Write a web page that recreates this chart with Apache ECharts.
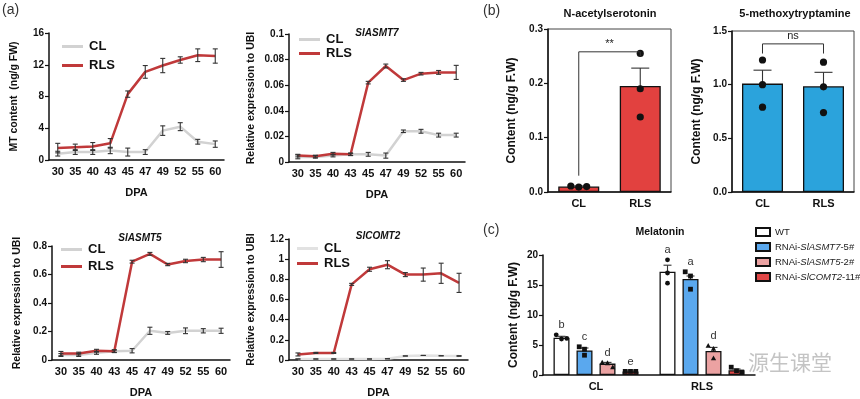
<!DOCTYPE html>
<html>
<head>
<meta charset="utf-8">
<script src="https://cdn.jsdelivr.net/npm/echarts@6/dist/echarts.min.js"></script>
<style>
html, body { margin: 0; padding: 0; background: #fff; }
#main { width: 860px; height: 399px; }
</style>
</head>
<body>
<div id="main"></div>
<script>
// ---- (a) time course, DPA categories
var dpa = ['30', '35', '40', '43', '45', '47', '49', '52', '55', '60'];

var mtCL = [0.8, 1.0, 1.0, 1.2, 1.0, 1.0, 3.7, 4.2, 2.3, 2.0];
var mtCLErr = [0.3, 0.3, 0.3, 0.4, 0.5, 0.3, 0.6, 0.5, 0.3, 0.4];
var mtRLS = [1.5, 1.6, 1.7, 2.1, 8.3, 11.1, 11.9, 12.6, 13.2, 13.1];
var mtRLSErr = [0.6, 0.4, 0.5, 0.6, 0.4, 0.8, 0.9, 0.4, 0.8, 0.9];

var a7CL = [0.004, 0.004, 0.005, 0.006, 0.006, 0.005, 0.024, 0.024, 0.021, 0.021];
var a7CLErr = [0.0015, 0.001, 0.001, 0.001, 0.0015, 0.002, 0.001, 0.0015, 0.0015, 0.0015];
var a7RLS = [0.005, 0.0045, 0.0065, 0.006, 0.062, 0.075, 0.064, 0.069, 0.070, 0.070];
var a7RLSErr = [0.001, 0.0008, 0.001, 0.0008, 0.001, 0.0015, 0.001, 0.001, 0.0015, 0.0055];

var a5CL = [0.035, 0.035, 0.05, 0.062, 0.065, 0.205, 0.19, 0.205, 0.205, 0.205];
var a5CLErr = [0.01, 0.01, 0.01, 0.01, 0.015, 0.025, 0.01, 0.02, 0.015, 0.018];
var a5RLS = [0.045, 0.045, 0.065, 0.062, 0.69, 0.745, 0.67, 0.695, 0.705, 0.705];
var a5RLSErr = [0.015, 0.01, 0.01, 0.008, 0.01, 0.01, 0.008, 0.012, 0.015, 0.055];

var c2CL = [0.01, 0.01, 0.01, 0.01, 0.01, 0.012, 0.04, 0.045, 0.042, 0.04];
var c2CLErr = [0, 0, 0, 0, 0, 0, 0, 0, 0, 0.003];
var c2RLS = [0.055, 0.07, 0.07, 0.75, 0.9, 0.945, 0.847, 0.847, 0.86, 0.765];
var c2RLSErr = [0.015, 0.005, 0.005, 0.01, 0.02, 0.04, 0.02, 0.065, 0.1, 0.095];

// ---- (b) precursors
var fruitCats = ['CL', 'RLS'];
var nasMean = [0.010, 0.195];
var nasErr = [0.001, 0.033];
var nasPts = [[0.011, 0.009, 0.010], [0.255, 0.190, 0.138]];
var nasBracket = [0.03, 0.258, 0.25];
var nasSig = '**';

var mtpMean = [1.01, 0.985];
var mtpErr = [0.125, 0.13];
var mtpPts = [[1.23, 1.00, 0.79], [1.21, 0.98, 0.74]];
var mtpBracket = [1.29, 1.38, 1.29];
var mtpSig = 'ns';

// ---- (c) melatonin in RNAi lines
var lines = ['WT', 'RNAi-SlASMT7-5#', 'RNAi-SlASMT5-2#', 'RNAi-SlCOMT2-11#'];
var melMean = [[6.2, 17.2], [4.1, 16.0], [1.9, 4.0], [0.6, 0.8]];
var melErr = [[0.25, 1.1], [0.4, 0.5], [0.2, 0.6], [0.05, 0.2]];
var melPts = [
  [[6.7, 6.0, 6.1], [19.2, 17.0, 15.3]],
  [[4.7, 4.3, 3.3], [17.2, 16.5, 14.3]],
  [[2.1, 2.0, 1.3], [4.9, 4.4, 2.8]],
  [[0.6, 0.6, 0.6], [1.3, 0.7, 0.5]]
];
var melLetters = [['b', 'a'], ['c', 'a'], ['d', 'd'], ['e', '']];

var RED = '#c0393a';
var lineColors = ['#ffffff', '#5aa8ee', '#eba2a2', '#e04646'];
var lineShapes = ['circle', 'square', 'triangle', 'square'];
var FONT = 'Arial';

var grids = [], xAxes = [], yAxes = [], series = [], legends = [];

function axisX(gi, cats, opt) {
  return Object.assign({
    type: 'category', gridIndex: gi, data: cats,
    axisLine: { lineStyle: { color: '#111', width: 1.5 } },
    axisTick: { length: 4, lineStyle: { color: '#111', width: 1.2 } },
    axisLabel: { color: '#111', fontWeight: 'bold', fontSize: 11, fontFamily: FONT, margin: 6, interval: 0 },
    splitLine: { show: false }
  }, opt || {});
}

function axisY(gi, max, step, name, gap, fmt, nameSize) {
  return {
    type: 'value', gridIndex: gi, min: 0, max: max, interval: step,
    name: name, nameLocation: 'middle', nameGap: gap,
    nameTextStyle: { color: '#111', fontWeight: 'bold', fontSize: nameSize || 10.5, fontFamily: FONT },
    axisLine: { show: true, lineStyle: { color: '#111', width: 1.5 } },
    axisTick: { show: true, length: 4, lineStyle: { color: '#111', width: 1.2 } },
    axisLabel: { color: '#111', fontWeight: 'bold', fontSize: 10, fontFamily: FONT, margin: 5, formatter: fmt },
    splitLine: { show: false }
  };
}

function errBars(xi, means, errs, both, offsetPx, cap, z) {
  return {
    type: 'custom', xAxisIndex: xi, yAxisIndex: xi, z: z || 6, silent: true,
    data: means.map(function (v, k) { return [k, v, errs[k]]; }),
    renderItem: function (params, api) {
      var k = api.value(0), v = api.value(1), e = api.value(2);
      var hi = api.coord([k, v + e]);
      var lo = api.coord([k, both ? v - e : v]);
      var dx = offsetPx || 0;
      var st = { stroke: '#333', lineWidth: 1.1, fill: null };
      var kids = [
        { type: 'line', shape: { x1: hi[0] + dx, y1: hi[1], x2: lo[0] + dx, y2: lo[1] }, style: st },
        { type: 'line', shape: { x1: hi[0] + dx - cap, y1: hi[1], x2: hi[0] + dx + cap, y2: hi[1] }, style: st }
      ];
      if (both) kids.push({ type: 'line', shape: { x1: lo[0] + dx - cap, y1: lo[1], x2: lo[0] + dx + cap, y2: lo[1] }, style: st });
      return { type: 'group', children: kids };
    }
  };
}

function linePanel(gi, box, ymax, step, fmt, cl, clErr, rls, rlsErr, clColor, yName, yGap, legendPos) {
  grids.push({ left: box[0], top: box[1], width: box[2], height: box[3], containLabel: false });
  xAxes.push(axisX(gi, dpa, {
    name: 'DPA', nameLocation: 'middle', nameGap: 27,
    nameTextStyle: { color: '#111', fontWeight: 'bold', fontSize: 11, fontFamily: FONT }
  }));
  yAxes.push(axisY(gi, ymax, step, yName, yGap, fmt));
  series.push({
    name: 'CL', type: 'line', xAxisIndex: gi, yAxisIndex: gi, data: cl, symbol: 'none', z: 2,
    itemStyle: { color: clColor }, lineStyle: { color: clColor, width: 2.5 }
  });
  series.push({
    name: 'RLS', type: 'line', xAxisIndex: gi, yAxisIndex: gi, data: rls, symbol: 'none', z: 3,
    itemStyle: { color: RED }, lineStyle: { color: RED, width: 2.5 }
  });
  series.push(errBars(gi, cl, clErr, true, 0, 2.5));
  series.push(errBars(gi, rls, rlsErr, true, 0, 2.5));
  legends.push({
    orient: 'vertical', left: legendPos[0], top: legendPos[1], itemGap: legendPos[2], padding: 0,
    icon: 'rect', itemWidth: 21, itemHeight: 3, selectedMode: false,
    textStyle: { color: '#111', fontWeight: 'bold', fontSize: 13, fontFamily: FONT, padding: [0, 0, 0, 1] },
    data: [{ name: 'CL', itemStyle: { color: clColor } }, { name: 'RLS', itemStyle: { color: RED } }]
  });
}

var f2 = function (v) { return String(+v.toFixed(2)); };
var f1 = function (v) { return v.toFixed(1); };

linePanel(0, [49, 33, 175, 127], 16, 4, null, mtCL, mtCLErr, mtRLS, mtRLSErr, '#d2d2d2',
  'MT content  (ng/g FW)', 29, [62, 40, 6]);
linePanel(1, [289, 34, 176, 128], 0.1, 0.02, f2, a7CL, a7CLErr, a7RLS, a7RLSErr, '#d2d2d2',
  'Relative expression to UBI', 32, [299, 33, 1]);
linePanel(2, [52, 246, 178, 119], 0.8, 0.2, f2, a5CL, a5CLErr, a5RLS, a5RLSErr, '#d2d2d2',
  'Relative expression to UBI', 29, [61, 243, 4]);
linePanel(3, [289, 239, 179, 125], 1.2, 0.2, f2, c2CL, c2CLErr, c2RLS, c2RLSErr, '#e2e2e2',
  'Relative expression to UBI', 32, [297, 242, 2]);

// dots drawn through the axes; points that would overlap are spread sideways
function dotSeries(gi, ptsByBar, step, r, shapes, colorFill) {
  var data = [];
  ptsByBar.forEach(function (byCat, b) {
    byCat.forEach(function (arr, c) {
      arr.forEach(function (v, j) { data.push([c, v, b, j]); });
    });
  });
  var nBars = ptsByBar.length;
  return {
    type: 'custom', xAxisIndex: gi, yAxisIndex: gi, z: 7, silent: true, data: data,
    renderItem: function (params, api) {
      var c = api.value(0), v = api.value(1), b = api.value(2), j = api.value(3);
      var p = api.coord([c, v]);
      var arr = ptsByBar[b][c];
      var close = arr.some(function (w, k) {
        return k !== j && Math.abs(api.coord([c, w])[1] - p[1]) < r * 2.2;
      });
      var x = p[0] + (b - (nBars - 1) / 2) * step + (close ? (j - 1) * r * 2.2 : 0);
      var y = p[1];
      var st = { fill: colorFill || '#111', stroke: null };
      var shp = shapes ? shapes[b] : 'circle';
      if (shp === 'square') return { type: 'rect', shape: { x: x - r, y: y - r, width: 2 * r, height: 2 * r }, style: st };
      if (shp === 'triangle') return { type: 'polygon', shape: { points: [[x, y - r * 1.1], [x - r * 1.1, y + r * 0.9], [x + r * 1.1, y + r * 0.9]] }, style: st };
      return { type: 'circle', shape: { cx: x, cy: y, r: r }, style: st };
    }
  };
}

function bracketSeries(gi, br, sig) {
  return {
    type: 'custom', xAxisIndex: gi, yAxisIndex: gi, z: 8, silent: true, data: [[0, br[1]]],
    renderItem: function (params, api) {
      var a = api.coord([0, br[0]]), t = api.coord([0, br[1]]), t2 = api.coord([1, br[1]]), b = api.coord([1, br[2]]);
      return {
        type: 'group', children: [
          { type: 'polyline', shape: { points: [a, t, t2, b] }, style: { stroke: '#333', lineWidth: 1, fill: null } },
          { type: 'text', x: (t[0] + t2[0]) / 2, y: t[1] - 2, style: { text: sig, fill: '#222', fontSize: 11, fontFamily: FONT, align: 'center', verticalAlign: 'bottom' } }
        ]
      };
    }
  };
}

function barPanel(gi, box, max, step, means, errs, pts, br, sig, color, gap) {
  grids.push({ left: box[0], top: box[1], width: box[2], height: box[3], containLabel: false, show: true, borderColor: '#444', borderWidth: 1, backgroundColor: 'transparent' });
  xAxes.push(axisX(gi, fruitCats, { axisTick: { alignWithLabel: true, length: 4, lineStyle: { color: '#111', width: 1.2 } } }));
  yAxes.push(axisY(gi, max, step, 'Content (ng/g F.W)', gap, f1, 12));
  series.push({
    type: 'bar', xAxisIndex: gi, yAxisIndex: gi, data: means, barWidth: 41, z: 2,
    itemStyle: { color: color, borderColor: '#111', borderWidth: 1.3 }
  });
  series.push(errBars(gi, means, errs, false, 0, 9));
  series.push(dotSeries(gi, [pts], 0, 3.6));
  series.push(bracketSeries(gi, br, sig));
}

barPanel(4, [548, 29, 123, 163], 0.3, 0.1, nasMean, nasErr, nasPts, nasBracket, nasSig, '#e2413f', 30);
barPanel(5, [732, 31, 122, 161], 1.5, 0.5, mtpMean, mtpErr, mtpPts, mtpBracket, mtpSig, '#2ba3dc', 29);

// (c) grouped bars
var G = 6, BW = 16, STEP = 23;
grids.push({ left: 543, top: 255, width: 212, height: 120, containLabel: false });
xAxes.push(axisX(G, fruitCats, { axisTick: { alignWithLabel: true, length: 4, lineStyle: { color: '#111', width: 1.2 } } }));
yAxes.push(axisY(G, 20, 5, 'Content (ng/g F.W)', 23, null, 12));
lines.forEach(function (nm, b) {
  series.push({
    name: nm, type: 'bar', xAxisIndex: G, yAxisIndex: G, barWidth: BW, barGap: ((STEP - BW) / BW * 100) + '%', z: 2,
    data: melMean[b], itemStyle: { color: lineColors[b], borderColor: '#111', borderWidth: 1.3 }
  });
  series.push(errBars(G, melMean[b], melErr[b], false, (b - 1.5) * STEP, 4));
});
series.push(dotSeries(G, melPts, STEP, 2.4, lineShapes));
var letterData = [];
melLetters.forEach(function (row, b) { row.forEach(function (s, c) { letterData.push([c, b]); }); });
series.push({
  type: 'custom', xAxisIndex: G, yAxisIndex: G, z: 8, silent: true, data: letterData,
  renderItem: function (params, api) {
    var c = api.value(0), b = api.value(1);
    var top = Math.max.apply(null, melPts[b][c].concat([melMean[b][c] + melErr[b][c]]));
    var p = api.coord([c, top]);
    return { type: 'text', x: p[0] + (b - 1.5) * STEP, y: p[1] - 4, style: { text: melLetters[b][c], fill: '#333', fontSize: 11, fontFamily: FONT, align: 'center', verticalAlign: 'bottom' } };
  }
});
legends.push({
  orient: 'vertical', left: 755, top: 227, itemGap: 5, padding: 0, icon: 'rect', itemWidth: 14, itemHeight: 8, selectedMode: false,
  textStyle: { color: '#222', fontSize: 9.5, fontFamily: FONT, rich: { i: { fontStyle: 'italic', fontSize: 9.5, fontFamily: FONT, color: '#222' } } },
  formatter: function (name) {
    var m = name.match(/^(RNAi-)(Sl\w+?)(-\d+#)$/);
    return m ? m[1] + '{i|' + m[2] + '}' + m[3] : name;
  },
  data: lines
});

var txt = function (x, y, s, o) {
  return { type: 'text', x: x, y: y, silent: true, style: Object.assign({ text: s, fill: '#111', fontFamily: FONT, fontSize: 11, fontWeight: 'bold', align: 'center', verticalAlign: 'middle' }, o || {}) };
};

var option = {
  animation: false,
  backgroundColor: '#fff',
  grid: grids, xAxis: xAxes, yAxis: yAxes, series: series, legend: legends,
  graphic: [
    txt(2, 10, '(a)', { align: 'left', fontWeight: 'normal', fontSize: 14, fill: '#333' }),
    txt(483, 11, '(b)', { align: 'left', fontWeight: 'normal', fontSize: 14, fill: '#333' }),
    txt(483, 230, '(c)', { align: 'left', fontWeight: 'normal', fontSize: 14, fill: '#333' }),
    txt(377, 33, 'SlASMT7', { fontStyle: 'italic', fontSize: 10 }),
    txt(140, 238, 'SlASMT5', { fontStyle: 'italic', fontSize: 10 }),
    txt(378, 236, 'SlCOMT2', { fontStyle: 'italic', fontSize: 10 }),
    txt(610, 14, 'N-acetylserotonin'),
    txt(795, 14, '5-methoxytryptamine'),
    txt(660, 232, 'Melatonin', { fontSize: 10.5 }),
    txt(790, 362, '源生课堂', { fontFamily: 'Noto Sans CJK SC', fontWeight: 'normal', fontSize: 21, fill: '#c4c4c4' })
  ]
};

var chart = echarts.init(document.getElementById('main'));
chart.setOption(option);
</script>
</body>
</html>
